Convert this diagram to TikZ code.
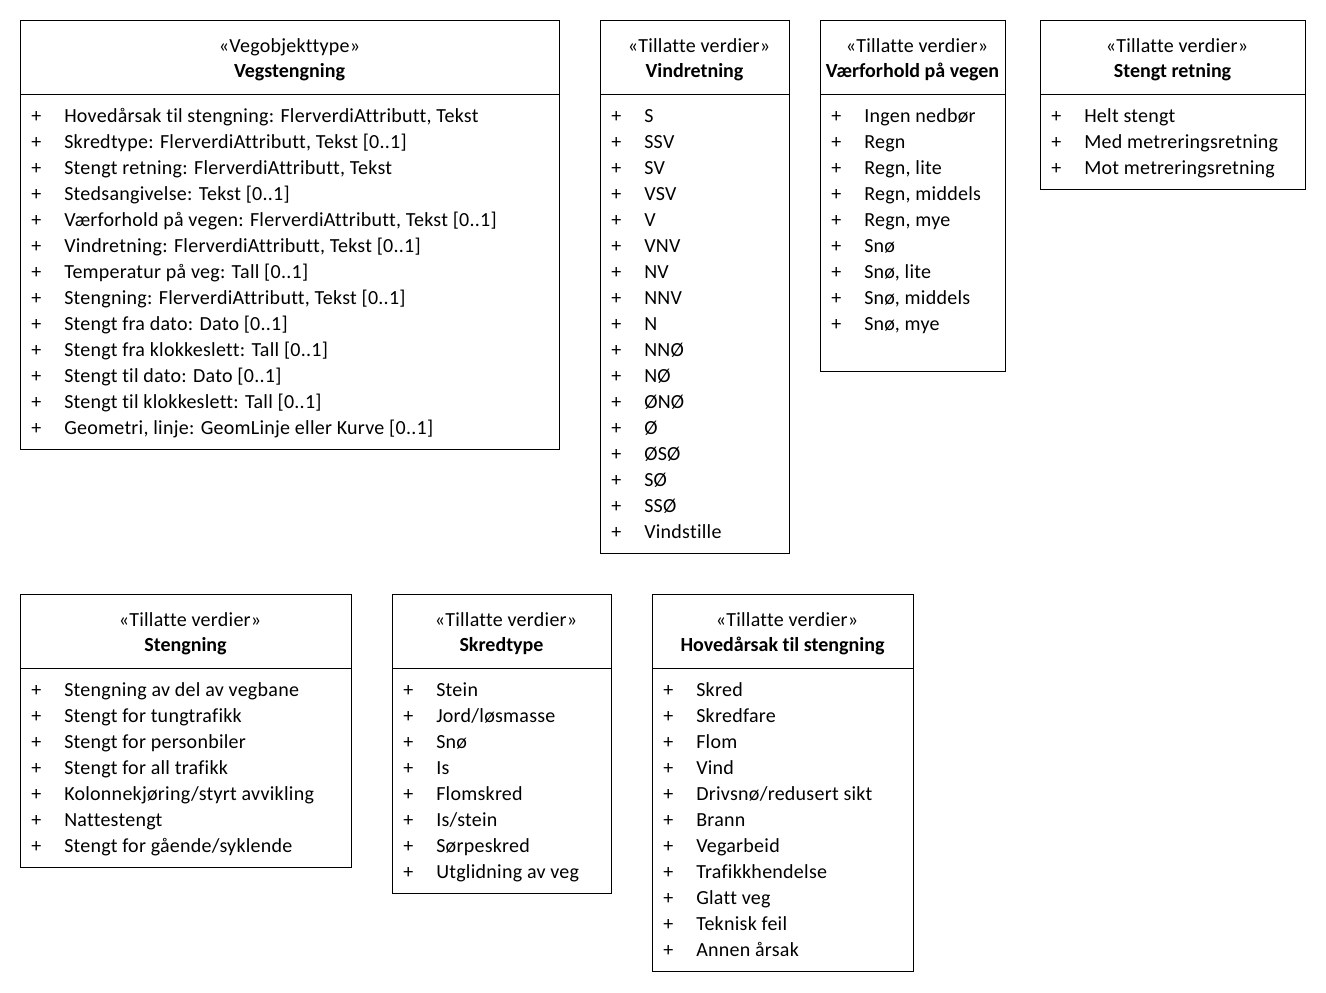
\documentclass[tikz,border=0pt]{standalone}
\usepackage{fontspec}
\setmainfont[Ligatures={NoCommon}]{Carlito}
\newfontfamily\regfont[Ligatures={NoCommon},LetterSpace=1.3]{Carlito}
\begin{document}
\begin{tikzpicture}[x=0.75pt,y=-0.75pt,
  boxline/.style={draw=black,line width=0.75pt},
  itemtext/.style={anchor=base west,inner sep=0pt,font=\regfont\fontsize{15pt}{18pt}\selectfont},
  headtext/.style={anchor=base,inner sep=0pt,font=\regfont\fontsize{15pt}{18pt}\selectfont},
  titletext/.style={anchor=base,inner sep=0pt,font=\fontsize{15pt}{18pt}\selectfont\bfseries}]
\useasboundingbox (0,0) rectangle (1326,992);
\newcommand\umlbox[9]{%
  \coordinate (#1nw) at (#2,#3);
  \coordinate (#1se) at (#4,#5);
  \coordinate (#1hl) at (#2,#3+74);
  \coordinate (#1hr) at (#4,#3+74);
  \draw[boxline] (#1nw) rectangle (#1se);
  \draw[boxline] (#1hl) -- (#1hr);
  \node[headtext] (#1st) at ({(#2+#4)/2+#9},#3+32) {«#6»};
  \node[titletext] (#1ti) at ({(#2+#4)/2},#3+57.5) {#7};
  \foreach \t [count=\i] in {#8} {
    \node[itemtext] (#1p\i) at (#2+11,#3+102+26*\i-26) {+};
    \node[itemtext] (#1i\i) at (#2+44,#3+102+26*\i-26) {\t};
  }%
}
\umlbox{a}{20}{20}{559}{449}{Vegobjekttype}{Vegstengning}{
  {Hovedårsak til stengning: FlerverdiAttributt, Tekst},
  {Skredtype: FlerverdiAttributt, Tekst [0..1]},
  {Stengt retning: FlerverdiAttributt, Tekst},
  {Stedsangivelse: Tekst [0..1]},
  {Værforhold på vegen: FlerverdiAttributt, Tekst [0..1]},
  {Vindretning: FlerverdiAttributt, Tekst [0..1]},
  {Temperatur på veg: Tall [0..1]},
  {Stengning: FlerverdiAttributt, Tekst [0..1]},
  {Stengt fra dato: Dato [0..1]},
  {Stengt fra klokkeslett: Tall [0..1]},
  {Stengt til dato: Dato [0..1]},
  {Stengt til klokkeslett: Tall [0..1]},
  {Geometri, linje: GeomLinje eller Kurve [0..1]}}{0}
\umlbox{b}{600}{20}{789}{553}{Tillatte verdier}{Vindretning}{
  S,SSV,SV,VSV,V,VNV,NV,NNV,N,NNØ,NØ,ØNØ,Ø,ØSØ,SØ,SSØ,Vindstille}{4.5}
\umlbox{c}{820}{20}{1005}{371}{Tillatte verdier}{Værforhold på vegen}{
  Ingen nedbør,Regn,{Regn, lite},{Regn, middels},{Regn, mye},Snø,{Snø, lite},{Snø, middels},{Snø, mye}}{4.5}
\umlbox{d}{1040}{20}{1305}{189}{Tillatte verdier}{Stengt retning}{
  Helt stengt,Med metreringsretning,Mot metreringsretning}{4.5}
\umlbox{e}{20}{594}{351}{867}{Tillatte verdier}{Stengning}{
  Stengning av del av vegbane,Stengt for tungtrafikk,Stengt for personbiler,Stengt for all trafikk,Kolonnekjøring/styrt avvikling,Nattestengt,Stengt for gående/syklende}{4.5}
\umlbox{f}{392}{594}{611}{893}{Tillatte verdier}{Skredtype}{
  Stein,Jord/løsmasse,Snø,Is,Flomskred,Is/stein,Sørpeskred,Utglidning av veg}{4.5}
\umlbox{g}{652}{594}{913}{971}{Tillatte verdier}{Hovedårsak til stengning}{
  Skred,Skredfare,Flom,Vind,Drivsnø/redusert sikt,Brann,Vegarbeid,Trafikkhendelse,Glatt veg,Teknisk feil,Annen årsak}{4.5}
\end{tikzpicture}
\end{document}
